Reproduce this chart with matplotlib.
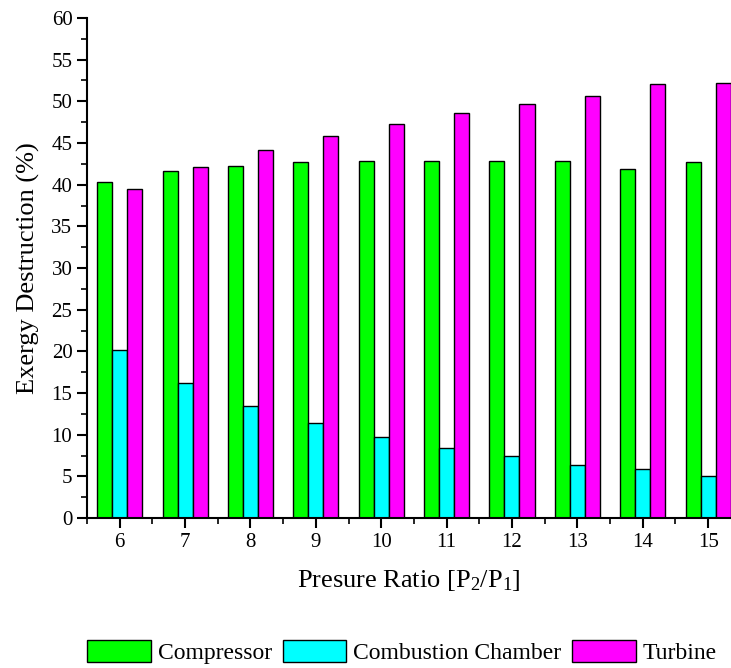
import matplotlib
matplotlib.use("Agg")
import matplotlib.pyplot as plt
import numpy as np

# pressure ratios and exergy destruction shares (%)
ratios = [6, 7, 8, 9, 10, 11, 12, 13, 14, 15]
compressor = [40.3, 41.6, 42.3, 42.7, 42.8, 42.9, 42.9, 42.8, 41.9, 42.7]
combustion = [20.2, 16.2, 13.4, 11.4, 9.7, 8.4, 7.4, 6.4, 5.9, 5.0]
turbine = [39.5, 42.1, 44.1, 45.8, 47.3, 48.6, 49.7, 50.6, 52.1, 52.2]

plt.rcParams['font.family'] = ['Liberation Serif', 'DejaVu Serif']
plt.rcParams['mathtext.fontset'] = 'custom'
plt.rcParams['mathtext.rm'] = 'Liberation Serif'
plt.rcParams['mathtext.it'] = 'Liberation Serif:italic'

fig = plt.figure(figsize=(7.31, 6.68), dpi=100)
ax = fig.add_axes([87 / 731, 1 - 518 / 668, 1 - 87 / 731, 500 / 668])

x = np.array(ratios, dtype=float)
w = 0.23
ax.bar(x - w, compressor, w, color='#00ff00', edgecolor='black', linewidth=1, label='Compressor')
ax.bar(x, combustion, w, color='#00ffff', edgecolor='black', linewidth=1, label='Combustion Chamber')
ax.bar(x + w, turbine, w, color='#ff00ff', edgecolor='black', linewidth=1, label='Turbine')

ax.set_xlim(5.5, 15.35)
ax.set_ylim(0, 60)
ax.set_xticks(ratios)
ax.set_xticks(np.arange(5.5, 15.5, 1.0), minor=True)
ax.set_yticks(np.arange(0, 61, 5))
ax.set_yticks(np.arange(0, 60.1, 2.5), minor=True)

for s in ['top', 'right']:
    ax.spines[s].set_visible(False)
for s in ['left', 'bottom']:
    ax.spines[s].set_linewidth(1.5)

ax.tick_params(which='major', direction='out', length=7, width=1.5, labelsize=15)
ax.tick_params(which='minor', direction='out', length=4, width=1.2)

ax.set_xlabel(r'Presure Ratio [P$_{\mathrm{2}}$/P$_{\mathrm{1}}$]', fontsize=19, labelpad=12)
ax.set_ylabel('Exergy Destruction (%)', fontsize=19, labelpad=8)

fig.legend(loc='center', bbox_to_anchor=(0.55, 1 - 652 / 668), ncol=3,
           frameon=False, fontsize=17, handlelength=2.7, handleheight=1.1,
           columnspacing=0.45, handletextpad=0.3)

fig.savefig('out.png', dpi=100)
